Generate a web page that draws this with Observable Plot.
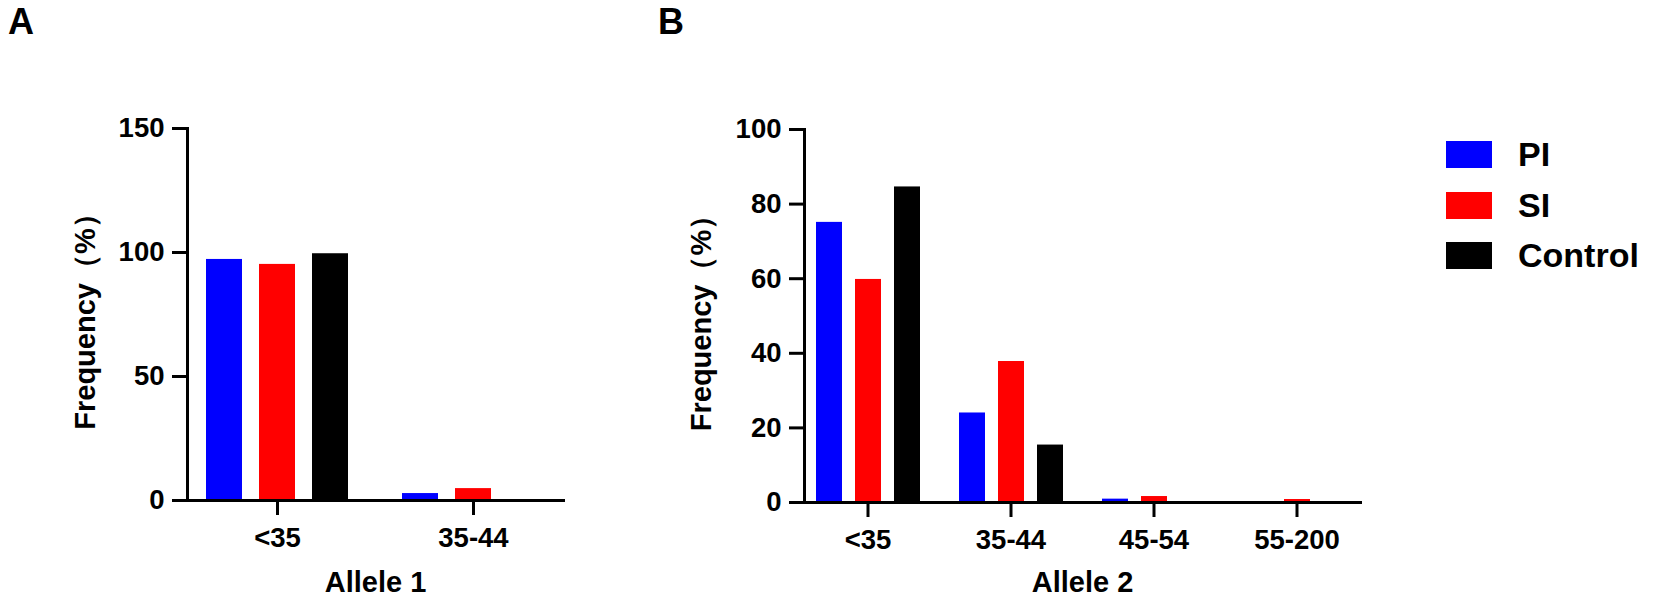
<!DOCTYPE html>
<html>
<head>
<meta charset="utf-8">
<script src="https://cdn.jsdelivr.net/npm/d3@7"></script>
<script src="https://cdn.jsdelivr.net/npm/@observablehq/plot@0.6"></script>
<style>
  html, body { margin: 0; padding: 0; background: #fff; }
  #root { position: relative; width: 1654px; height: 601px; overflow: hidden;
          font-family: "Liberation Sans", Arial, sans-serif; font-weight: bold; color: #000; }
  .panel { position: absolute; top: 0; }
  .letter { position: absolute; top: 4px; font-size: 36px; line-height: 1; }
  .legend { position: absolute; left: 1446px; top: 141px; }
  .legend-row { position: absolute; left: 0; display: flex; align-items: center; height: 27px; white-space: nowrap; }
  .swatch { width: 46px; height: 27px; }
  .legend-label { position: absolute; left: 72px; font-size: 34px; line-height: 27px; }
  #root svg g[aria-label="y-axis label"] text,
  #root svg g[aria-label="fx-axis label"] text { font-size: 29px; }
</style>
</head>
<body>
<div id="root"></div>
<script>
// ---- data ----
const series = ["PI", "SI", "Control"];
const seriesColors = ["#0000ff", "#ff0000", "#000000"];

const allele1Categories = ["<35", "35-44"];
const allele1PI = [97.2, 2.8];
const allele1SI = [95.2, 4.8];
const allele1Control = [99.5, 0];
const allele1Ticks = [0, 50, 100, 150];

const allele2Categories = ["<35", "35-44", "45-54", "55-200"];
const allele2PI = [75.1, 24.0, 0.9, 0];
const allele2SI = [59.8, 37.8, 1.6, 0.8];
const allele2Control = [84.6, 15.4, 0, 0];
const allele2Ticks = [0, 20, 40, 60, 80, 100];

const yLabel = "Frequency（%）";

function toRows(categories, valuesBySeries) {
  return categories.flatMap((c, i) =>
    series.map((s, j) => ({category: c, series: s, value: valuesBySeries[j][i]})));
}

function panel(o) {
  return Plot.plot({
    width: o.width,
    height: 601,
    marginLeft: o.marginLeft,
    marginRight: o.marginRight,
    marginTop: o.marginTop,
    marginBottom: o.marginBottom,
    style: {fontFamily: '"Liberation Sans", Arial, sans-serif', fontWeight: "bold", color: "#000", background: "transparent", overflow: "visible"},
    facet: {marginTop: 0, marginRight: 0, marginBottom: 0, marginLeft: 0},
    fx: {domain: o.categories, paddingInner: o.fxPadding, paddingOuter: 0, label: null},
    x: {domain: series, paddingInner: o.xPaddingInner, paddingOuter: o.xPaddingOuter, axis: null},
    y: {domain: [0, o.yMax]},
    color: {domain: series, range: seriesColors},
    marks: [
      Plot.barY(o.data, {fx: "category", x: "series", y: "value", fill: "series"}),
      Plot.frame({anchor: "bottom", facet: "super", stroke: "#000", strokeWidth: 3}),
      Plot.frame({anchor: "left", facet: "super", stroke: "#000", strokeWidth: 3}),
      Plot.axisY({ticks: o.ticks, tickSize: 15, tickPadding: 8, strokeWidth: 3, fontSize: 27.5,
        label: yLabel, labelAnchor: "center", labelArrow: false, labelOffset: o.yLabelOffset}),
      Plot.axisFx({anchor: "bottom", tickSize: 15, tickPadding: 12, strokeWidth: 3, fontSize: 27.5,
        label: o.xLabel, labelAnchor: "center", labelArrow: false, labelOffset: o.xLabelOffset})
    ]
  });
}

const root = document.getElementById("root");

const plotA = panel({
  data: toRows(allele1Categories, [allele1PI, allele1SI, allele1Control]),
  categories: allele1Categories, yMax: 150, ticks: allele1Ticks, xLabel: "Allele 1",
  width: 620, marginLeft: 187, marginRight: 57, marginTop: 128, marginBottom: 101,
  fxPadding: 0.084, xPaddingInner: 0.327, xPaddingOuter: 0.336, yLabelOffset: 113, xLabelOffset: 91
});
plotA.classList.add("panel");
plotA.style.left = "0px";
root.appendChild(plotA);

const plotB = panel({
  data: toRows(allele2Categories, [allele2PI, allele2SI, allele2Control]),
  categories: allele2Categories, yMax: 100, ticks: allele2Ticks, xLabel: "Allele 2",
  width: 800, marginLeft: 182, marginRight: 58, marginTop: 129, marginBottom: 99,
  fxPadding: 0.111, xPaddingInner: 0.342, xPaddingOuter: 0.291, yLabelOffset: 114, xLabelOffset: 89
});
plotB.classList.add("panel");
plotB.style.left = "620px";
root.appendChild(plotB);

// panel letters
[["A", 8], ["B", 658]].forEach(([t, x]) => {
  const d = document.createElement("div");
  d.className = "letter";
  d.style.left = x + "px";
  d.textContent = t;
  root.appendChild(d);
});

// legend
const legend = document.createElement("div");
legend.className = "legend";
series.forEach((s, i) => {
  const row = document.createElement("div");
  row.className = "legend-row";
  row.style.top = (i * 50.5) + "px";
  const sw = document.createElement("div");
  sw.className = "swatch";
  sw.style.background = seriesColors[i];
  const lab = document.createElement("div");
  lab.className = "legend-label";
  lab.textContent = s;
  row.appendChild(sw);
  row.appendChild(lab);
  legend.appendChild(row);
});
root.appendChild(legend);
</script>
</body>
</html>
